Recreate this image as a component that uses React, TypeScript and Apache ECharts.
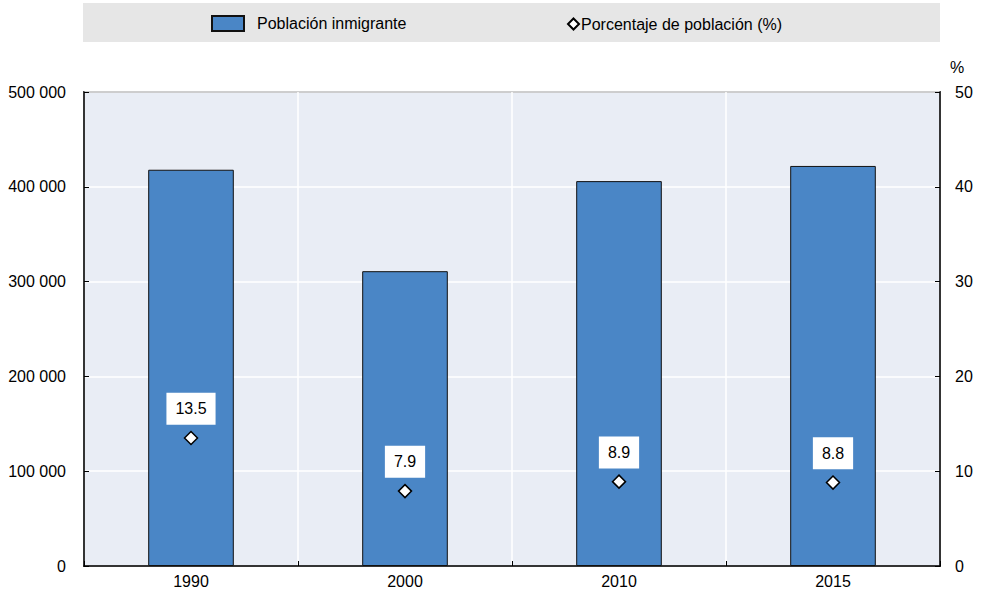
import React, { useEffect, useRef } from "react";
import * as echarts from "echarts";

const categories = ["1990", "2000", "2010", "2015"];
const immigrantPopulation = [418000, 311000, 406000, 422000];
const populationShare = [13.5, 7.9, 8.9, 8.8];
const seriesNames = ["Población inmigrante", "Porcentaje de población (%)"];

const FONT = "'Liberation Sans Narrow', 'Arial Narrow', 'Liberation Sans', Arial, sans-serif";

function fmtThousands(v: number): string {
  return String(v).replace(/\B(?=(\d{3})+(?!\d))/g, " ");
}

export default function App() {
  const ref = useRef<HTMLDivElement>(null);
  useEffect(() => {
    document.body.style.margin = "0";
    const chart = echarts.init(ref.current!, undefined, { renderer: "svg" });
    chart.setOption({
      animation: false,
      textStyle: { fontFamily: FONT },
      graphic: [
        {
          type: "rect",
          z: -10,
          shape: { x: 83, y: 3, width: 857, height: 39 },
          style: { fill: "#e6e6e6" },
        },
      ],
      legend: [
        {
          data: [{ name: seriesNames[0], icon: "rect" }],
          left: 211,
          top: 15,
          padding: 0,
          itemWidth: 32,
          itemHeight: 15,
          textStyle: { fontFamily: FONT, fontSize: 16, color: "#000", padding: [0, 0, 0, 8] },
        },
        {
          data: [{ name: seriesNames[1], icon: "diamond" }],
          left: 567,
          top: 16,
          padding: 0,
          itemWidth: 11,
          itemHeight: 11,
          textStyle: { fontFamily: FONT, fontSize: 16, color: "#000", padding: [0, 0, 0, -3] },
        },
      ],
      grid: {
        left: 84,
        right: 42,
        top: 92,
        bottom: 28,
        show: true,
        backgroundColor: "#e9edf5",
        borderColor: "#000",
        borderWidth: 1.5,
      },
      xAxis: {
        type: "category",
        data: categories,
        axisLine: { show: true, lineStyle: { color: "#000", width: 1.5 } },
        axisTick: { show: true, inside: true, length: 5, lineStyle: { color: "#000" } },
        splitLine: { show: true, lineStyle: { color: "#ffffff", width: 1.5 } },
        axisLabel: { color: "#000", fontSize: 16, fontFamily: FONT, margin: 7 },
      },
      yAxis: [
        {
          type: "value",
          min: 0,
          max: 500000,
          interval: 100000,
          axisLine: { show: true, lineStyle: { color: "#000", width: 1.5 } },
          axisTick: { show: true, inside: true, length: 5, lineStyle: { color: "#000" } },
          splitLine: { show: true, lineStyle: { color: "#ffffff", width: 1.5 } },
          axisLabel: {
            color: "#000",
            fontSize: 16,
            fontFamily: FONT,
            margin: 18,
            formatter: (v: number) => fmtThousands(v),
          },
        },
        {
          type: "value",
          min: 0,
          max: 50,
          interval: 10,
          name: "%",
          nameLocation: "end",
          nameGap: 17,
          nameTextStyle: { color: "#000", fontSize: 16, fontFamily: FONT, align: "left", padding: [0, 0, 0, 10] },
          axisLine: { show: true, lineStyle: { color: "#000", width: 1.5 } },
          axisTick: { show: true, inside: true, length: 5, lineStyle: { color: "#000" } },
          splitLine: { show: false },
          axisLabel: { color: "#000", fontSize: 16, fontFamily: FONT, margin: 15 },
        },
      ],
      series: [
        {
          name: seriesNames[0],
          type: "bar",
          data: immigrantPopulation,
          barWidth: "40%",
          itemStyle: { color: "#4a86c6", borderColor: "#111111", borderWidth: 1 },
        },
        {
          name: seriesNames[1],
          type: "scatter",
          yAxisIndex: 1,
          data: populationShare,
          symbol: "diamond",
          symbolSize: 13,
          itemStyle: { color: "#ffffff", borderColor: "#000", borderWidth: 1.5, opacity: 1 },
          label: {
            show: true,
            position: "top",
            distance: 6,
            formatter: (p: any) => Number(p.value).toFixed(1),
            color: "#000",
            fontSize: 16,
            fontFamily: FONT,
            backgroundColor: "#ffffff",
            padding: [6, 9],
            lineHeight: 20,
          },
        },
      ],
    });
    return () => chart.dispose();
  }, []);
  return <div ref={ref} style={{ width: 982, height: 594 }} />;
}
